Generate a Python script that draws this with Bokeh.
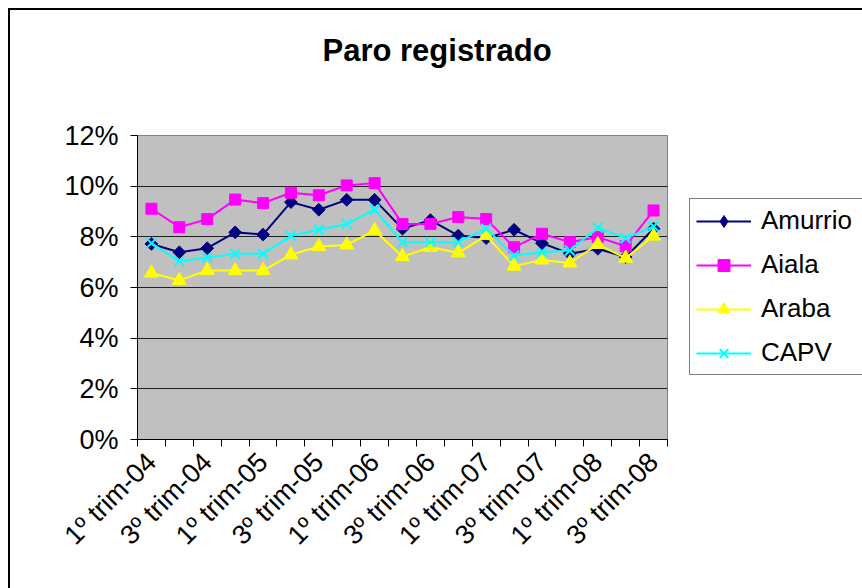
from bokeh.plotting import figure
from bokeh.layouts import row
from bokeh.models import (Range1d, FixedTicker, Legend, LegendItem, Title,
                          PrintfTickFormatter, ColumnDataSource)
from bokeh.embed import file_html
from bokeh.resources import INLINE
from math import pi

# ---- data ----
categories = ["1º trim-04", "2º trim-04", "3º trim-04", "4º trim-04",
              "1º trim-05", "2º trim-05", "3º trim-05", "4º trim-05",
              "1º trim-06", "2º trim-06", "3º trim-06", "4º trim-06",
              "1º trim-07", "2º trim-07", "3º trim-07", "4º trim-07",
              "1º trim-08", "2º trim-08", "3º trim-08"]
amurrio = [7.72, 7.39, 7.55, 8.18, 8.09, 9.37, 9.07, 9.46, 9.46, 8.32,
           8.66, 8.05, 7.95, 8.28, 7.75, 7.33, 7.53, 7.20, 8.32]
aiala = [9.11, 8.38, 8.70, 9.47, 9.33, 9.74, 9.64, 10.03, 10.12, 8.51,
         8.51, 8.78, 8.70, 7.59, 8.12, 7.79, 7.99, 7.63, 9.04]
araba = [6.57, 6.28, 6.67, 6.67, 6.67, 7.29, 7.62, 7.68, 8.25, 7.22,
         7.59, 7.37, 8.05, 6.84, 7.09, 6.97, 7.70, 7.16, 8.03]
capv = [7.75, 7.03, 7.18, 7.33, 7.33, 8.04, 8.28, 8.50, 9.07, 7.79,
        7.79, 7.79, 8.32, 7.26, 7.39, 7.46, 8.36, 7.95, 8.41]
y_ticks = [0, 2, 4, 6, 8, 10, 12]
title_text = "Paro registrado"

FONT = "Liberation Sans"
n = len(categories)
idx = list(range(n))
src = ColumnDataSource(dict(x=idx, cat=categories, amurrio=amurrio,
                            aiala=aiala, araba=araba, capv=capv))

p = figure(width=658, height=578, output_backend="svg", toolbar_location=None,
           x_range=Range1d(-0.5, n - 0.5), y_range=Range1d(0, 12),
           min_border_left=127, min_border_right=1,
           min_border_top=125, min_border_bottom=149,
           background_fill_color="#C0C0C0", border_fill_color="white",
           outline_line_color="#808080", outline_line_width=1)

# title (outermost) + invisible spacer title between it and the frame
p.title.text = title_text
p.title.text_font = FONT
p.title.text_font_size = "31px"
p.title.text_font_style = "bold"
p.title.text_color = "black"
p.title.align = "left"
p.title.offset = 185
p.title.standoff = 10
p.add_layout(Title(text=" ", text_font=FONT, text_font_size="31px",
                   text_font_style="bold", standoff=26), "above")

# x axis: labels on every other category, ticks between categories
xa = p.xaxis[0]
xa.ticker = FixedTicker(ticks=idx[::2], minor_ticks=[i - 0.5 for i in range(n + 1)])
xa.major_label_overrides = {i: categories[i] for i in idx[::2]}
xa.major_tick_line_color = None
xa.minor_tick_line_color = "black"
xa.minor_tick_out = 7
xa.minor_tick_in = 0
xa.axis_line_color = "black"
xa.major_label_orientation = pi / 4
xa.major_label_text_font = FONT
xa.major_label_text_font_size = "27px"
xa.major_label_text_color = "black"
xa.major_label_standoff = 11

ya = p.yaxis[0]
ya.ticker = FixedTicker(ticks=y_ticks)
ya.formatter = PrintfTickFormatter(format="%d%%")
ya.minor_tick_line_color = None
ya.major_tick_out = 7
ya.major_tick_in = 0
ya.major_tick_line_color = "black"
ya.axis_line_color = "black"
ya.major_label_text_font = FONT
ya.major_label_text_font_size = "27px"
ya.major_label_text_color = "black"
ya.major_label_standoff = 12

p.xgrid.visible = False
p.ygrid.ticker = FixedTicker(ticks=y_ticks)
p.ygrid.grid_line_color = "#202020"
p.ygrid.grid_line_width = 1

series = [
    ("Amurrio", "amurrio", "#000080",
     dict(marker="square", size=9, angle=pi / 4), dict(marker="diamond", size=13)),
    ("Aiala", "aiala", "#FF00FF", dict(marker="square", size=11), dict(marker="square", size=11)),
    ("Araba", "araba", "#FFFF00", dict(marker="triangle", size=14), dict(marker="triangle", size=14)),
    ("CAPV", "capv", "#00FFFF", dict(marker="x", size=14), dict(marker="x", size=14)),
]

# legend lives in a narrow companion canvas to the right of the plot
pl = figure(width=194, height=578, output_backend="svg", toolbar_location=None,
            x_range=Range1d(0, 1), y_range=Range1d(0, 1),
            x_axis_location=None, y_axis_location=None,
            min_border=0, outline_line_color=None,
            background_fill_color="white", border_fill_color="white")
pl.grid.visible = False

items = []
for name, col, color, mk, lmk in series:
    lw = 2 if mk["marker"] == "x" else 1
    p.line("x", col, source=src, line_color=color, line_width=2)
    p.scatter("x", col, source=src, fill_color=color, line_color=color,
              line_width=lw, **mk)
    # legend-only twins (hidden in the companion canvas)
    lr = pl.line("x", col, source=src, line_color=color, line_width=2,
                 visible=False)
    sr = pl.scatter("x", col, source=src, fill_color=color, line_color=color,
                    line_width=lw, visible=False, **lmk)
    items.append(LegendItem(label=name, renderers=[lr, sr]))

legend = Legend(items=items, location=(21, 64),
                label_text_font=FONT, label_text_font_size="26px",
                label_text_color="black", label_height=30, glyph_height=30,
                glyph_width=55, label_width=100, spacing=13, padding=6, margin=0,
                label_standoff=10, border_line_color="black",
                border_line_width=1, background_fill_color="white",
                background_fill_alpha=1, inactive_fill_alpha=0,
                click_policy="none")
pl.add_layout(legend, "center")

layout = row(p, pl, spacing=0)
layout.margin = (8, 0, 0, 8)
layout.styles = {"border-left": "2px solid black", "border-top": "2px solid black"}

open("out.html", "w").write(file_html(layout, INLINE))
